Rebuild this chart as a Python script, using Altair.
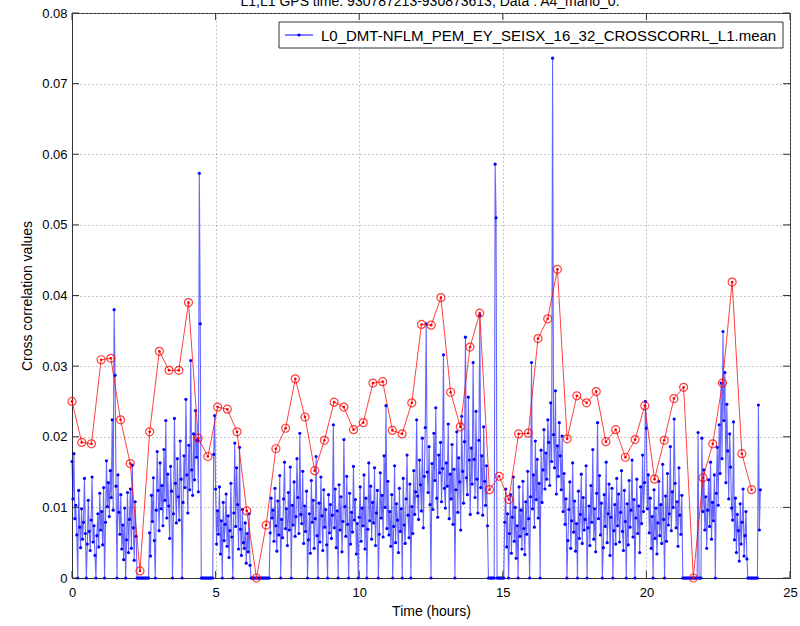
import altair as alt
import pandas as pd

# ---------------- data ----------------
# Blue series: one value every 2 minutes, in units of 0.001 (rows = hours 0..23)
h00 = [16.5, 11.2, 17.6, 8.4, 10.3, 6.1, 0, 12.4, 7.2, 4.3, 9.8, 5.5, 7.9, 14.1, 6.3, 0, 4.8, 11.0, 6.6, 3.9, 8.2, 14.3, 5.1, 7.4, 3.2, 0, 6.0, 9.1, 4.4, 12.0]
h01 = [6.8, 9.4, 4.7, 12.8, 0, 7.9, 16.6, 10.1, 13.5, 8.7, 15.2, 11.4, 22.4, 9.6, 38.0, 28.7, 13.0, 0, 14.6, 9.3, 6.2, 11.8, 4.1, 7.5, 2.6, 9.9, 0, 5.4, 12.1, 3.6]
h02 = [8.3, 12.6, 4.2, 16.0, 7.1, 2.5, 10.8, 5.9, 0, 0, 0, 0, 0, 0, 0, 0, 0, 0, 0, 0, 0, 6.4, 3.1, 11.7, 8.0, 14.2, 5.3, 0, 9.6, 17.9]
h03 = [12.4, 6.7, 16.3, 9.8, 13.1, 7.4, 18.2, 11.0, 22.3, 8.5, 14.7, 10.2, 5.6, 15.8, 12.3, 0, 9.1, 22.6, 13.4, 7.8, 16.9, 11.5, 8.2, 19.4, 14.0, 0, 10.7, 17.3, 12.8, 25.3]
h04 = [14.6, 9.2, 18.8, 12.5, 30.8, 15.3, 11.7, 20.4, 13.9, 23.7, 17.1, 19.5, 12.2, 57.3, 36.0, 0, 0, 0, 0, 0, 0, 0, 0, 0, 0, 0, 0, 0, 17.5, 23.0]
h05 = [12.6, 4.8, 9.5, 6.2, 12.9, 3.4, 8.1, 0, 10.7, 5.3, 7.6, 11.9, 4.5, 8.8, 2.9, 6.7, 13.4, 5.8, 0, 9.2, 19.1, 7.3, 15.6, 10.4, 4.1, 18.5, 6.9, 3.2, 9.7, 5.0]
h06 = [4.2, 7.8, 2.1, 6.3, 3.7, 9.1, 1.8, 0, 0, 0, 0, 0, 0, 0, 0, 0, 0, 0, 0, 0, 0, 0, 0, 0, 0, 0, 0, 6.4, 11.3, 8.5]
h07 = [9.6, 5.2, 12.7, 7.4, 3.8, 10.9, 6.1, 14.5, 0, 8.3, 5.7, 11.2, 16.4, 7.0, 9.8, 4.6, 12.1, 6.8, 15.7, 0, 10.3, 7.5, 13.6, 5.9, 8.7, 16.9, 11.4, 6.3, 20.5, 9.0]
h08 = [7.7, 15.1, 4.9, 10.2, 6.6, 12.3, 0, 5.4, 9.1, 3.5, 13.8, 7.9, 11.0, 4.2, 8.4, 17.2, 6.0, 0, 10.6, 5.1, 14.3, 8.8, 3.9, 12.5, 7.2, 9.7, 4.7, 0, 11.8, 6.4]
h09 = [10.4, 5.6, 8.9, 21.7, 7.1, 12.6, 4.3, 9.5, 0, 13.2, 6.8, 11.5, 3.7, 8.0, 19.6, 10.1, 5.9, 14.4, 7.6, 0, 12.0, 4.8, 9.3, 6.5, 15.8, 8.2, 11.1, 3.4, 7.7, 0]
h10 = [8.6, 12.9, 5.2, 9.9, 7.4, 14.6, 4.1, 11.3, 0, 6.9, 16.3, 8.1, 13.0, 5.5, 10.7, 7.8, 15.6, 4.6, 9.2, 12.4, 0, 6.2, 14.9, 8.5, 11.7, 5.8, 17.3, 10.0, 24.4, 7.0]
h11 = [13.7, 6.1, 9.4, 4.5, 11.8, 0, 7.3, 15.9, 5.0, 10.5, 8.2, 3.6, 12.7, 6.6, 9.8, 0, 14.1, 7.5, 4.9, 11.2, 17.4, 8.9, 5.7, 13.3, 0, 10.1, 6.3, 15.2, 9.0, 12.2]
h12 = [22.4, 11.6, 8.3, 16.7, 13.2, 9.5, 19.8, 7.1, 14.4, 21.3, 36.0, 15.0, 12.1, 18.6, 10.4, 0, 16.2, 9.7, 20.5, 13.8, 24.1, 11.3, 8.6, 17.4, 14.9, 19.2, 10.8, 15.5, 31.6, 12.7]
h13 = [9.9, 16.3, 13.0, 21.8, 8.4, 14.7, 11.2, 18.9, 7.6, 15.4, 0, 12.5, 20.7, 9.3, 17.0, 13.6, 6.8, 22.9, 15.1, 10.6, 19.3, 34.1, 14.2, 11.8, 25.6, 16.7, 9.0, 18.4, 13.3, 30.5]
h14 = [16.8, 11.4, 23.6, 14.0, 9.2, 19.5, 37.2, 12.8, 17.3, 8.9, 21.4, 13.7, 10.3, 15.9, 7.4, 0, 0, 0, 0, 0, 0, 0, 58.6, 51.0, 0, 0, 0, 0, 0, 0]
h15 = [0, 0, 7.9, 12.6, 4.4, 9.1, 0, 6.3, 11.8, 3.5, 8.6, 14.3, 5.2, 10.0, 2.8, 7.4, 0, 12.9, 5.9, 9.6, 4.1, 13.7, 7.0, 3.3, 10.8, 6.2, 15.1, 8.4, 0, 11.5]
h16 = [30.5, 9.8, 14.6, 7.2, 19.4, 11.1, 16.8, 8.5, 13.4, 0, 18.1, 10.7, 15.3, 21.0, 12.6, 17.7, 14.0, 22.4, 19.2, 13.1, 24.8, 16.5, 73.6, 20.3, 15.6, 26.5, 11.9, 18.7, 14.4, 22.0]
h17 = [17.3, 12.5, 20.1, 9.4, 14.8, 7.6, 11.2, 0, 5.3, 9.7, 13.6, 4.2, 8.1, 16.3, 6.5, 10.9, 3.8, 7.7, 0, 12.3, 5.6, 9.0, 14.7, 4.9, 11.4, 6.8, 8.3, 15.9, 0, 7.1]
h18 = [10.2, 4.6, 13.1, 7.9, 18.2, 5.5, 9.8, 3.7, 12.0, 22.0, 8.4, 14.5, 6.1, 10.6, 0, 4.3, 11.8, 7.3, 16.4, 5.0, 9.1, 13.3, 3.2, 8.6, 12.7, 0, 6.7, 10.4, 4.8, 14.1]
h19 = [7.4, 11.9, 5.1, 9.3, 15.2, 6.6, 3.9, 12.4, 8.0, 0, 10.5, 4.7, 13.8, 7.2, 9.6, 16.7, 5.8, 11.1, 0, 8.5, 14.0, 6.3, 10.2, 3.6, 12.9, 7.7, 17.4, 9.4, 13.5, 25.0]
h20 = [21.2, 9.8, 14.6, 6.4, 11.3, 4.2, 8.7, 0, 12.5, 5.6, 9.9, 3.4, 7.8, 13.7, 6.0, 10.4, 4.9, 16.1, 8.3, 0, 11.6, 5.2, 14.8, 7.5, 9.1, 18.6, 6.7, 12.2, 10.0, 22.5]
h21 = [13.4, 7.1, 10.8, 4.5, 15.6, 8.9, 6.2, 11.7, 0, 0, 0, 0, 0, 0, 0, 0, 0, 0, 0, 0, 0, 0, 0, 0, 20.6, 0, 0, 0, 19.8, 9.4]
h22 = [15.3, 6.8, 11.5, 4.2, 9.6, 13.9, 7.3, 16.4, 5.5, 10.7, 8.1, 14.6, 0, 12.0, 18.5, 10.3, 21.7, 14.8, 27.6, 16.9, 34.9, 22.3, 29.1, 13.5, 24.6, 18.0, 11.2, 20.4, 15.7, 9.9]
h23 = [8.2, 22.1, 5.4, 11.3, 3.6, 9.0, 6.7, 2.4, 10.5, 4.8, 7.9, 12.6, 3.1, 6.0, 9.4, 2.7, 0, 0, 0, 0, 0, 0, 0, 0, 0, 0, 0, 24.5, 6.8, 12.5]
blue_hours = [h00, h01, h02, h03, h04, h05, h06, h07, h08, h09, h10, h11,
              h12, h13, h14, h15, h16, h17, h18, h19, h20, h21, h22, h23]
samples_per_hour = 30

# Red series: 71 values (units of 0.001), evenly spaced over 24 h
red_milli = [25.0, 19.2, 19.0, 30.9, 31.1, 22.4, 16.2, 1.0, 20.7, 32.1,
             29.4, 29.4, 39.0, 19.8, 17.2, 24.2, 23.9, 20.7, 9.5, 0.0,
             7.5, 18.3, 21.2, 28.2, 22.8, 15.2, 19.5, 24.9, 24.2, 21.0,
             22.0, 27.6, 27.8, 20.9, 20.4, 24.8, 35.9, 35.8, 39.7, 26.3,
             21.4, 32.7, 37.5, 12.5, 14.4, 11.1, 20.4, 20.5, 33.9, 36.7,
             43.7, 19.7, 25.8, 24.8, 26.4, 19.3, 21.0, 17.1, 19.6, 24.4,
             14.0, 19.5, 25.4, 27.0, 0.0, 14.2, 19.0, 27.6, 41.9, 17.6, 12.5]
red_step_hours = 24 / 71

x_ticks = [0, 5, 10, 15, 20, 25]
y_ticks = [0, 0.01, 0.02, 0.03, 0.04, 0.05, 0.06, 0.07, 0.08]
legend_label = "L0_DMT-NFLM_PEM_EY_SEISX_16_32_CROSSCORRL_L1.mean"
title_text = "L1,L1 GPS time: 930787213-930873613, Data : A4_mario_0."

# ---------------- tables ----------------
bt, bv = [], []
for h, row in enumerate(blue_hours):
    for j, val in enumerate(row):
        bt.append(h + j / samples_per_hour)
        bv.append(val / 1000.0)
blue_df = pd.DataFrame({"t": bt, "v": bv})
red_df = pd.DataFrame({"t": [k * red_step_hours for k in range(len(red_milli))],
                       "v": [m / 1000.0 for m in red_milli]})
xt_df = pd.DataFrame({"t": x_ticks})
yt_df = pd.DataFrame({"v": y_ticks})
one = pd.DataFrame({"a": [0]})

W, H = 718, 565
FONT = "Liberation Sans"

xs = alt.Scale(domain=[0, 25], nice=False, zero=False)
ys = alt.Scale(domain=[0, 0.08], nice=False)
xaxis = alt.Axis(values=x_ticks, format="d", title="Time (hours)", grid=True,
                 gridDash=[1, 3], gridColor="#8a8a8a", gridWidth=1,
                 tickSize=0, labelPadding=8, labelFontSize=13, labelFont=FONT,
                 labelColor="#000", labelFlush=False, titleFontSize=14, titleFont=FONT,
                 titleFontWeight="normal", titleColor="#000", titlePadding=5,
                 domainColor="#333")
yaxis = alt.Axis(values=y_ticks, format="~g", title="Cross correlation values",
                 grid=True, gridDash=[1, 3], gridColor="#8a8a8a", gridWidth=1,
                 tickSize=0, labelPadding=5, labelFontSize=13, labelFont=FONT,
                 labelColor="#000", labelFlush=False, titleFontSize=14, titleFont=FONT,
                 titleFontWeight="normal", titleColor="#000", titlePadding=7,
                 domainColor="#333")
X = alt.X("t:Q", scale=xs, axis=xaxis)
Y = alt.Y("v:Q", scale=ys, axis=yaxis)

blue_line = alt.Chart(blue_df).mark_line(color="#0000ff", strokeWidth=1.1, opacity=0.6).encode(x=X, y=Y)
blue_pts = alt.Chart(blue_df).mark_circle(color="#0000ff", size=10, opacity=1).encode(x=X, y=Y)
red_line = alt.Chart(red_df).mark_line(color="#ff0000", strokeWidth=1, opacity=0.75).encode(x=X, y=Y)
red_ring = alt.Chart(red_df).mark_point(shape="circle", size=64, filled=False, stroke="#ff0000",
                                        strokeWidth=1.2, opacity=0.75).encode(x=X, y=Y)
red_dot = alt.Chart(red_df).mark_circle(color="#ff0000", size=7, opacity=1).encode(x=X, y=Y)

tick_col = "#333"
xt_bot = alt.Chart(xt_df).mark_rule(color=tick_col).encode(x=X, y=alt.value(H), y2=alt.value(H - 7))
xt_top = alt.Chart(xt_df).mark_rule(color=tick_col).encode(x=X, y=alt.value(0), y2=alt.value(7))
yt_left = alt.Chart(yt_df).mark_rule(color=tick_col).encode(y=Y, x=alt.value(0), x2=alt.value(7))
yt_right = alt.Chart(yt_df).mark_rule(color=tick_col).encode(y=Y, x=alt.value(W), x2=alt.value(W - 7))

# legend box (decoration)
lg_box = alt.Chart(one).mark_rect(fill="white", stroke="#333", strokeWidth=1).encode(
    x=alt.value(207), x2=alt.value(711), y=alt.value(9), y2=alt.value(35))
lg_line = alt.Chart(one).mark_rule(color="#0000ff", strokeWidth=1).encode(
    x=alt.value(213), x2=alt.value(241), y=alt.value(22))
lg_dot = alt.Chart(one).mark_circle(color="#0000ff", size=10, opacity=1).encode(
    x=alt.value(227), y=alt.value(22))
lg_text = alt.Chart(one).mark_text(align="left", baseline="middle", font=FONT, fontSize=15,
                                   color="#000").encode(
    x=alt.value(249), y=alt.value(22.5), text=alt.value(legend_label))

top_title = alt.Chart(one).mark_text(align="center", baseline="alphabetic", font=FONT,
                                     fontSize=14, color="#000").encode(
    x=alt.value(358), y=alt.value(-7), text=alt.value(title_text))

chart = alt.layer(
    blue_line, blue_pts, red_line, red_ring, red_dot,
    xt_bot, xt_top, yt_left, yt_right,
    lg_box, lg_line, lg_dot, lg_text, top_title
).properties(
    width=W, height=H,
    autosize=alt.AutoSizeParams(type="none"),
    padding={"left": 72, "top": 13, "right": 10, "bottom": 48},
    background="white",
).configure_view(stroke="#333", strokeWidth=1)

chart.save("out.html", embed_options={"renderer": "svg", "actions": False})
